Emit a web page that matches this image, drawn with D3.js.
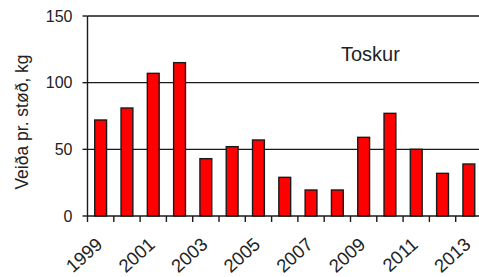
<!doctype html>
<html>
<head>
<style>
  body { margin: 0; background: #fff; }
  svg { display: block; }
  text { font-family: "Liberation Sans", Arial, sans-serif; fill: #222; }
</style>
<script src="https://d3js.org/d3.v7.min.js"></script>
</head>
<body>
<svg width="479" height="277"></svg>
<script>
// data
var years = ["1999","2000","2001","2002","2003","2004","2005","2006","2007","2008","2009","2010","2011","2012","2013"];
var catch_kg = [72, 81, 107, 115, 43, 52, 57, 29, 19.5, 19.5, 59, 77, 50, 32, 39];
var yTicks = [0, 50, 100, 150];
var xLabels = ["1999","2001","2003","2005","2007","2009","2011","2013"];

var svg = d3.select("svg");
var plotL = 87.5, plotR = 482, plotT = 16, plotB = 216;

var x = d3.scaleBand().domain(years).range([plotL, plotR]).paddingInner(0.55).paddingOuter(0.275);
var y = d3.scaleLinear().domain([0, 150]).range([plotB, plotT]);
var step = x.step();

// grid lines
svg.selectAll(".grid").data(yTicks.slice(1))
  .enter().append("line")
  .attr("x1", plotL).attr("x2", plotR)
  .attr("y1", function(d) { return y(d); }).attr("y2", function(d) { return y(d); })
  .attr("stroke", "#1a1a1a").attr("stroke-width", 1.4);

// bars
svg.selectAll(".bar").data(years)
  .enter().append("rect")
  .attr("x", function(d) { return x(d); })
  .attr("y", function(d, i) { return y(catch_kg[i]); })
  .attr("width", x.bandwidth())
  .attr("height", function(d, i) { return plotB - y(catch_kg[i]); })
  .attr("fill", "#ff0000").attr("stroke", "#1a1a1a").attr("stroke-width", 1.4);

// y axis
svg.append("line").attr("x1", plotL).attr("x2", plotL).attr("y1", plotT).attr("y2", plotB)
  .attr("stroke", "#1a1a1a").attr("stroke-width", 1.4);
svg.selectAll(".ytick").data(yTicks)
  .enter().append("line")
  .attr("x1", plotL - 5).attr("x2", plotL)
  .attr("y1", function(d) { return y(d); }).attr("y2", function(d) { return y(d); })
  .attr("stroke", "#1a1a1a").attr("stroke-width", 1.4);
svg.selectAll(".ylab").data(yTicks)
  .enter().append("text")
  .attr("x", plotL - 15).attr("y", function(d) { return y(d); })
  .attr("dy", "0.35em").attr("text-anchor", "end")
  .attr("font-size", "16px")
  .text(function(d) { return d; });

// x axis
svg.append("line").attr("x1", plotL).attr("x2", plotR).attr("y1", plotB).attr("y2", plotB)
  .attr("stroke", "#1a1a1a").attr("stroke-width", 1.4);
svg.selectAll(".xtick").data(d3.range(years.length + 1))
  .enter().append("line")
  .attr("x1", function(i) { return plotL + i * step; }).attr("x2", function(i) { return plotL + i * step; })
  .attr("y1", plotB).attr("y2", plotB + 6)
  .attr("stroke", "#1a1a1a").attr("stroke-width", 1.4);
svg.selectAll(".xlab").data(xLabels)
  .enter().append("text")
  .attr("transform", function(d) {
    return "translate(" + (x(d) + x.bandwidth() / 2 + 3) + "," + 246 + ") rotate(-42)";
  })
  .attr("text-anchor", "end")
  .attr("font-size", "18.5px")
  .text(function(d) { return d; });

// titles
svg.append("text")
  .attr("transform", "translate(28,122) rotate(-90)")
  .attr("text-anchor", "middle")
  .attr("font-size", "17.5px")
  .text("Veiða pr. støð, kg");

svg.append("text")
  .attr("x", 341).attr("y", 61)
  .attr("font-size", "20px")
  .text("Toskur");
</script>
</body>
</html>
